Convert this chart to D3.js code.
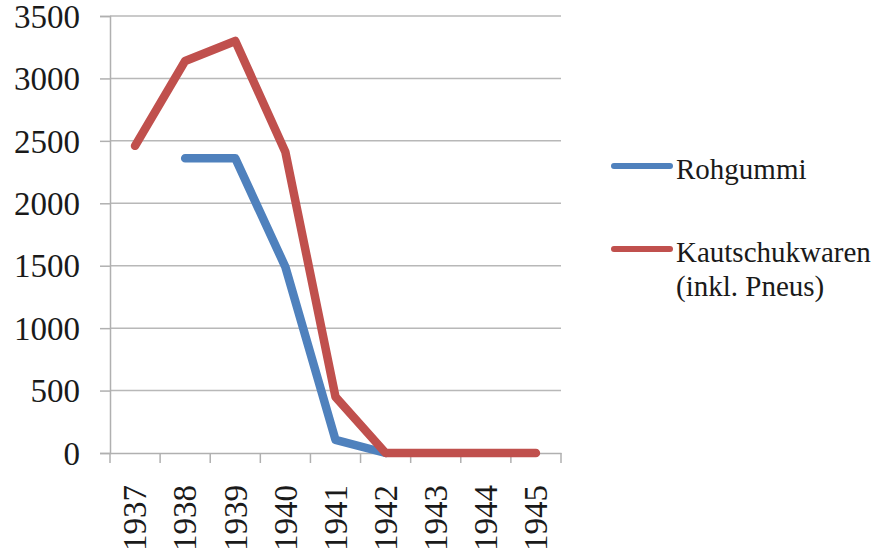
<!DOCTYPE html>
<html><head><meta charset="utf-8">
<script src="https://cdn.jsdelivr.net/npm/d3@7"></script>
<style>body{margin:0;background:#fff}svg{display:block}</style>
</head><body>
<svg id="c" width="881" height="551"></svg>
<script>
const years = ["1937","1938","1939","1940","1941","1942","1943","1944","1945"];
const rohgummi = [null, 2360, 2360, 1490, 105, 0, null, null, null];
const kautschuk = [2460, 3140, 3300, 2410, 450, 0, 0, 0, 0];
const yTicks = [0, 500, 1000, 1500, 2000, 2500, 3000, 3500];
const seriesNames = ["Rohgummi", ["Kautschukwaren", "(inkl. Pneus)"]];
const colors = ["#4F81BD", "#C0504D"];

(function(){
const svg = d3.select("#c");
const font = "'Liberation Serif', serif";
const pL = 110, pR = 561, pT = 16, pB = 453;
const x = d3.scaleBand().domain(years).range([pL, pR]);
const y = d3.scaleLinear().domain([0, 3500]).range([pB, pT]);

// gridlines
svg.append("g").selectAll("line").data(yTicks.filter(d => d > 0)).join("line")
  .attr("x1", pL).attr("x2", pR)
  .attr("y1", d => y(d)).attr("y2", d => y(d))
  .attr("stroke", "#b8b8b8").attr("stroke-width", 1.5);

// y axis
const ya = svg.append("g").attr("transform", `translate(${pL},0)`)
  .call(d3.axisLeft(y).tickValues(yTicks).tickSize(10).tickPadding(20).tickFormat(d3.format("d")));
ya.select(".domain").attr("stroke", "#b0b0b0").attr("stroke-width", 1.5);
ya.selectAll(".tick line").attr("stroke", "#b0b0b0").attr("stroke-width", 1.5);
ya.selectAll(".tick text").attr("font-family", font).attr("font-size", 33).attr("fill", "#1a1a1a").attr("dy", "0.34em");

// x axis
const xa = svg.append("g").attr("transform", `translate(0,${pB})`)
  .call(d3.axisBottom(x).tickSize(0).tickPadding(0));
xa.select(".domain").attr("stroke", "#b0b0b0").attr("stroke-width", 1.5);
xa.selectAll(".tick text").remove();
xa.selectAll(".tick line").remove();
const bounds = years.map(d => x(d)).concat([x(years[years.length-1]) + x.bandwidth()]);
xa.selectAll("line.bt").data(bounds).join("line").attr("class","bt")
  .attr("x1", d => d).attr("x2", d => d).attr("y1", 0).attr("y2", 10)
  .attr("stroke", "#b0b0b0").attr("stroke-width", 1.5);
xa.selectAll("text.yl").data(years).join("text").attr("class","yl")
  .attr("transform", d => `translate(${x(d) + x.bandwidth()/2},${32}) rotate(-90)`)
  .attr("text-anchor", "end").attr("dy", "0.34em")
  .attr("font-family", font).attr("font-size", 33).attr("fill", "#1a1a1a")
  .text(d => d);

// lines
const line = d3.line().defined(d => d.v !== null)
  .x(d => x(d.k) + x.bandwidth()/2).y(d => y(d.v));
[rohgummi, kautschuk].forEach((s, i) => {
  svg.append("path").datum(years.map((k, j) => ({k, v: s[j]})))
    .attr("d", line).attr("fill", "none").attr("stroke", colors[i])
    .attr("stroke-width", 8.5).attr("stroke-linecap", "round").attr("stroke-linejoin", "round");
});

// legend
const leg = svg.append("g");
const legY = [166, 249];
seriesNames.forEach((n, i) => {
  leg.append("line").attr("x1", 614).attr("x2", 670).attr("y1", legY[i]).attr("y2", legY[i])
    .attr("stroke", colors[i]).attr("stroke-width", 6).attr("stroke-linecap", "round");
  const lines = Array.isArray(n) ? n : [n];
  lines.forEach((t, j) => {
    leg.append("text").attr("x", 676).attr("y", legY[i] + 13 + j * 34)
      .attr("font-family", font).attr("font-size", 29).attr("fill", "#1a1a1a").text(t);
  });
});
})();
</script>
</body></html>
